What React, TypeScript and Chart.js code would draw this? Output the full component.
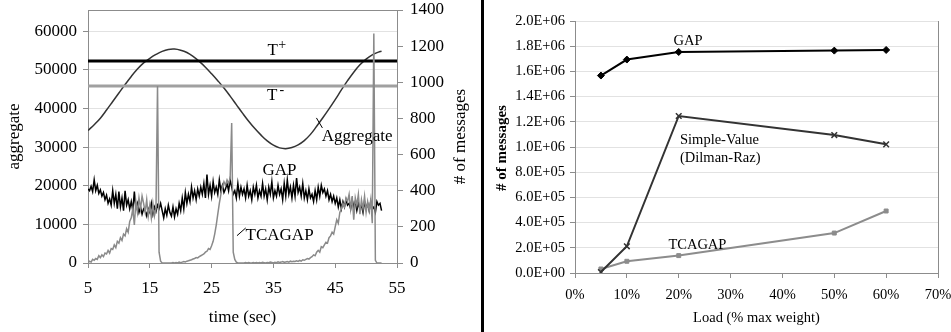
import React, { useEffect, useRef } from 'react';
import { Chart, registerables } from 'chart.js';

Chart.register(...registerables);

const SERIF = '"Liberation Serif", "Times New Roman", Times, serif';

// ---------------- Left panel: aggregate / messages over time ----------------
const AGG_TIME = [5, 6, 7, 8, 9, 10, 11, 12, 13, 14, 15, 16, 17, 18, 19, 20, 21, 22, 23, 24, 25, 26, 27, 28, 29, 30, 31, 32, 33, 34, 35, 36, 37, 38, 39, 40, 41, 42, 43, 44, 45, 46, 47, 48, 49, 50, 51, 52, 52.5];
const AGG_VALUES = [34300, 35800, 37500, 39600, 41800, 44000, 46200, 48300, 50200, 51800, 53000, 54000, 54800, 55300, 55400, 55100, 54500, 53500, 52200, 50700, 49000, 47200, 45300, 43200, 41000, 38800, 36700, 34800, 33100, 31600, 30500, 29800, 29600, 29900, 30600, 31700, 33300, 35400, 37600, 39900, 42300, 44800, 47200, 49400, 51300, 52800, 53900, 54600, 54800];
const AGG_TICKS = [0, 10000, 20000, 30000, 40000, 50000, 60000];

// messages sampled every 0.25 s starting at t = 5 s
const MSG_START = 5;
const MSG_STEP = 0.25;
const GAP_MSGS = [
  410, 400, 425, 395, 460,
  400, 430, 385, 405, 370, 390, 350, 375, 330, 355, 320, 400, 330, 380, 300, 395,
  310, 360, 290, 400, 320, 350, 300, 340, 290, 395, 300, 330, 280, 310, 270, 300,
  290, 260, 300, 280, 330, 270, 310, 285, 320, 300, 330, 290, 250, 300, 265, 320,
  280, 260, 310, 255, 300, 270, 330, 290, 360, 300, 390, 330, 380, 340, 420, 360,
  400, 350, 410, 370, 420, 380, 440, 360, 490, 380, 430, 370, 450, 390, 420, 380,
  460, 400, 430, 390, 410, 440, 400, 460, 420, 380, 400, 360, 440, 370, 420, 380,
  410, 360, 430, 370, 400, 350, 420, 380, 430, 360, 400, 370, 440, 370, 410, 350,
  420, 380, 450, 360, 400, 370, 430, 380, 410, 350, 440, 370, 460, 380, 420, 360,
  430, 370, 470, 390, 420, 370, 440, 360, 400, 350, 410, 360, 380, 340, 400, 350,
  420, 370, 430, 390, 410, 370, 400, 350, 380, 340, 370, 330, 360, 310, 350, 300,
  340, 310, 350, 320, 330, 300, 350, 310, 340, 290, 330, 300, 320, 280, 340, 300,
  330, 290, 340, 300, 310, 280, 340, 320,
  330, 290,
];
const TCAGAP_MSGS = [
  0, 10, 5, 20, 15,
  25, 20, 40, 30, 45, 35, 55, 50, 70, 55, 80, 75, 100, 85, 120, 110,
  140, 125, 160, 150, 190, 170, 230, 250, 300, 210, 340, 280, 360, 300, 370, 330,
  280, 350, 260, 320, 250, 330, 260, 300, 980, 60, 10, 0, 0, 0, 0, 0,
  0, 0, 2, 0, 3, 0, 5, 2, 5, 8, 6, 10, 12, 15, 18, 22,
  25, 30, 28, 35, 40, 45, 50, 60, 65, 80, 75, 95, 120, 160, 210, 270,
  330, 380, 420, 450, 430, 460, 440, 470, 775, 60, 20, 5, 0, 0, 0, 0,
  0, 2, 0, 3, 0, 0, 2, 0, 3, 0, 2, 0, 4, 2, 0, 3,
  2, 5, 3, 0, 4, 2, 6, 3, 5, 8, 4, 6, 8, 5, 10, 7,
  10, 8, 12, 9, 14, 10, 18, 15, 20, 25, 22, 30, 35, 45, 40, 60,
  70, 60, 90, 85, 100, 115, 110, 140, 150, 170, 160, 200, 240, 220, 280, 300,
  330, 310, 360, 340, 380, 300, 370, 240, 360, 320, 380, 270, 350, 300, 370, 280,
  340, 290, 350, 220, 1270, 15, 0, 0,
  0, 0,
];
const T_PLUS = 52300;
const T_MINUS = 45800;
const TIME_SPAN = [5, 55];

// annotation texts (data coordinates: time, aggregate)
const LEFT_NOTES = [
  { text: 'T', sup: '+', t: 34.89, v: 55050 },
  { text: 'T', sup: '-', t: 34.81, v: 43390 },
  { text: 'Aggregate', sup: '', t: 48.56, v: 32800 },
  { text: 'GAP', sup: '', t: 35.97, v: 23860 },
  { text: 'TCAGAP', sup: '', t: 36.0, v: 7120 },
];
const LEFT_LEADERS = [
  { t1: 41.96, v1: 37560, t2: 42.93, v2: 34970 },
  { t1: 29.11, v1: 7070, t2: 30.52, v2: 9070 },
];

// ---------------- Right panel: total messages vs load ----------------
const LOAD_PCT = [5, 10, 20, 50, 60];
const GAP_TOTAL = [1567000, 1694000, 1754000, 1765000, 1770000];
const SIMPLE_TOTAL = [8000, 212000, 1246000, 1095000, 1021000];
const TCAGAP_TOTAL = [32000, 93000, 138000, 317000, 492000];

const RIGHT_NOTES = [
  { text: 'GAP', align: 'center', x: 21.8, y: 1836000 },
  { text: 'Simple-Value', align: 'left', x: 20.25, y: 1051000 },
  { text: '(Dilman-Raz)', align: 'left', x: 20.25, y: 908000 },
  { text: 'TCAGAP', align: 'center', x: 23.6, y: 220000 },
];

function fmtSci(v: number): string {
  if (Math.abs(v) < 1e-6) return '0.0E+00';
  const e = Math.floor(Math.log10(v) + 1e-9);
  const m = v / Math.pow(10, e);
  return m.toFixed(1) + 'E+' + String(e).padStart(2, '0');
}

const fixSize = (size: number, horizontal: boolean) => (scale: any) => {
  if (horizontal) scale.height = size;
  else scale.width = size;
  scale.paddingTop = 0;
  scale.paddingBottom = 0;
  scale.paddingLeft = 0;
  scale.paddingRight = 0;
};

function rotatedText(ctx: CanvasRenderingContext2D, text: string, x: number, y: number) {
  ctx.save();
  ctx.translate(x, y);
  ctx.rotate(-Math.PI / 2);
  ctx.textAlign = 'center';
  ctx.textBaseline = 'alphabetic';
  ctx.fillText(text, 0, 0);
  ctx.restore();
}

const leftDecor = {
  id: 'leftDecor',
  afterDraw(chart: any) {
    const { ctx, chartArea: a, scales } = chart;
    const xs = scales.x;
    const ys = scales.y;
    ctx.save();
    ctx.strokeStyle = '#8c8c8c';
    ctx.lineWidth = 1;
    ctx.beginPath();
    ctx.moveTo(a.left, a.top + 0.5);
    ctx.lineTo(a.right, a.top + 0.5);
    ctx.stroke();

    ctx.fillStyle = '#000';
    ctx.textAlign = 'center';
    ctx.textBaseline = 'middle';
    for (const n of LEFT_NOTES) {
      const px = xs.getPixelForValue(n.t);
      const py = ys.getPixelForValue(n.v);
      ctx.font = `17px ${SERIF}`;
      ctx.fillText(n.text, px, py);
      if (n.sup) {
        ctx.font = `14px ${SERIF}`;
        ctx.fillText(n.sup, px + 9.5, py - 5);
      }
    }
    ctx.strokeStyle = '#000';
    ctx.lineWidth = 1;
    for (const l of LEFT_LEADERS) {
      ctx.beginPath();
      ctx.moveTo(xs.getPixelForValue(l.t1), ys.getPixelForValue(l.v1));
      ctx.lineTo(xs.getPixelForValue(l.t2), ys.getPixelForValue(l.v2));
      ctx.stroke();
    }

    ctx.font = `17px ${SERIF}`;
    rotatedText(ctx, 'aggregate', 19, (a.top + a.bottom) / 2);
    rotatedText(ctx, '# of messages', 464.5, (a.top + a.bottom) / 2);
    ctx.textAlign = 'center';
    ctx.textBaseline = 'alphabetic';
    ctx.fillText('time (sec)', (a.left + a.right) / 2, 321.5);
    ctx.restore();
  },
};

const rightDecor = {
  id: 'rightDecor',
  afterDraw(chart: any) {
    const { ctx, chartArea: a, scales } = chart;
    const xs = scales.x;
    const ys = scales.y;
    ctx.save();
    ctx.strokeStyle = '#8c8c8c';
    ctx.lineWidth = 1;
    ctx.beginPath();
    ctx.moveTo(a.right + 0.5, a.top);
    ctx.lineTo(a.right + 0.5, a.bottom);
    ctx.stroke();

    ctx.fillStyle = '#000';
    ctx.textBaseline = 'middle';
    ctx.font = `14.5px ${SERIF}`;
    for (const n of RIGHT_NOTES) {
      ctx.textAlign = n.align as CanvasTextAlign;
      ctx.fillText(n.text, xs.getPixelForValue(n.x), ys.getPixelForValue(n.y));
    }

    ctx.font = `bold 15px ${SERIF}`;
    rotatedText(ctx, '# of messages', 21, 148);
    ctx.font = `14.5px ${SERIF}`;
    ctx.textAlign = 'center';
    ctx.textBaseline = 'alphabetic';
    ctx.fillText('Load (% max weight)', (a.left + a.right) / 2, 322);
    ctx.restore();
  },
};

export default function App() {
  const leftRef = useRef<HTMLCanvasElement>(null);
  const rightRef = useRef<HTMLCanvasElement>(null);

  useEffect(() => {
    const tick17 = { family: SERIF, size: 17 };
    const tick14 = { family: SERIF, size: 14.5 };
    const plain = (v: any) => String(Math.round(Number(v)));

    const msgPoints = (arr: number[]) => arr.map((v, i) => ({ x: MSG_START + i * MSG_STEP, y: v }));

    const left = new Chart(leftRef.current as HTMLCanvasElement, {
      type: 'line',
      data: {
        datasets: [
          {
            label: 'TCAGAP',
            data: msgPoints(TCAGAP_MSGS),
            yAxisID: 'y1',
            borderColor: '#8a8a8a',
            borderWidth: 1.5,
            pointRadius: 0,
            tension: 0,
          },
          {
            label: 'GAP',
            data: msgPoints(GAP_MSGS),
            yAxisID: 'y1',
            borderColor: '#000',
            borderWidth: 1.5,
            pointRadius: 0,
            tension: 0,
          },
          {
            label: 'T+',
            data: TIME_SPAN.map((t) => ({ x: t, y: T_PLUS })),
            yAxisID: 'y',
            borderColor: '#000',
            borderWidth: 3,
            pointRadius: 0,
          },
          {
            label: 'T-',
            data: TIME_SPAN.map((t) => ({ x: t, y: T_MINUS })),
            yAxisID: 'y',
            borderColor: '#a0a0a0',
            borderWidth: 3,
            pointRadius: 0,
          },
          {
            label: 'Aggregate',
            data: AGG_TIME.map((t, i) => ({ x: t, y: AGG_VALUES[i] })),
            yAxisID: 'y',
            borderColor: '#333',
            borderWidth: 1.5,
            pointRadius: 0,
            tension: 0.4,
          },
        ],
      },
      options: {
        responsive: false,
        animation: false,
        devicePixelRatio: 1,
        layout: { padding: { top: 10, left: 0, right: 0, bottom: 0 } },
        plugins: { legend: { display: false }, tooltip: { enabled: false } },
        scales: {
          x: {
            type: 'linear',
            position: 'bottom',
            min: 5,
            max: 55,
            ticks: { stepSize: 10, autoSkip: false, maxRotation: 0, padding: 10, color: '#000', font: tick17, callback: plain },
            grid: { drawOnChartArea: false, tickLength: 5, tickColor: '#8c8c8c' },
            border: { color: '#8c8c8c' },
            afterFit: fixSize(69, true),
          },
          y: {
            type: 'linear',
            position: 'left',
            min: 0,
            max: 65500,
            ticks: { padding: 6, color: '#000', font: tick17, autoSkip: false, callback: plain },
            afterBuildTicks: (s: any) => {
              s.ticks = AGG_TICKS.map((v) => ({ value: v }));
            },
            grid: { color: '#e2e2e2', tickLength: 5, tickColor: '#8c8c8c' },
            border: { color: '#8c8c8c' },
            afterFit: fixSize(88, false),
          },
          y1: {
            type: 'linear',
            position: 'right',
            min: 0,
            max: 1400,
            ticks: { stepSize: 200, padding: 7, color: '#000', font: tick17, callback: plain },
            grid: { drawOnChartArea: false, tickLength: 6, tickColor: '#8c8c8c' },
            border: { color: '#8c8c8c' },
            afterFit: fixSize(83, false),
          },
        },
      } as any,
      plugins: [leftDecor],
    });

    const right = new Chart(rightRef.current as HTMLCanvasElement, {
      type: 'line',
      data: {
        datasets: [
          {
            label: 'GAP',
            data: LOAD_PCT.map((x, i) => ({ x, y: GAP_TOTAL[i] })),
            borderColor: '#000',
            backgroundColor: '#000',
            borderWidth: 2,
            pointStyle: 'rectRot',
            pointRadius: 3.5,
            pointBorderWidth: 1,
          },
          {
            label: 'Simple-Value (Dilman-Raz)',
            data: LOAD_PCT.map((x, i) => ({ x, y: SIMPLE_TOTAL[i] })),
            borderColor: '#333',
            backgroundColor: '#333',
            borderWidth: 2,
            pointStyle: 'crossRot',
            pointRadius: 4,
            pointBorderWidth: 1.5,
          },
          {
            label: 'TCAGAP',
            data: LOAD_PCT.map((x, i) => ({ x, y: TCAGAP_TOTAL[i] })),
            borderColor: '#8c8c8c',
            backgroundColor: '#8c8c8c',
            borderWidth: 2,
            pointStyle: 'rect',
            pointRadius: 2.8,
            pointBorderWidth: 1,
          },
        ],
      },
      options: {
        responsive: false,
        animation: false,
        devicePixelRatio: 1,
        layout: { padding: { top: 21, left: 0, right: 13, bottom: 0 } },
        plugins: { legend: { display: false }, tooltip: { enabled: false } },
        scales: {
          x: {
            type: 'linear',
            position: 'bottom',
            min: 0,
            max: 70,
            ticks: {
              stepSize: 10,
              autoSkip: false,
              maxRotation: 0,
              padding: 8,
              color: '#000',
              font: tick14,
              callback: (v: any) => `${Math.round(Number(v))}%`,
            },
            grid: { drawOnChartArea: false, tickLength: 5, tickColor: '#8c8c8c' },
            border: { color: '#8c8c8c' },
            afterFit: fixSize(59, true),
          },
          y: {
            type: 'linear',
            position: 'left',
            min: 0,
            max: 2000000,
            ticks: {
              stepSize: 200000,
              padding: 5,
              color: '#000',
              font: tick14,
              autoSkip: false,
              callback: (v: any) => fmtSci(Number(v)),
            },
            grid: { color: '#e2e2e2', tickLength: 5, tickColor: '#8c8c8c' },
            border: { color: '#8c8c8c' },
            afterFit: fixSize(90, false),
          },
        },
      } as any,
      plugins: [rightDecor],
    });

    return () => {
      left.destroy();
      right.destroy();
    };
  }, []);

  return (
    <div style={{ position: 'absolute', left: 0, top: 0, width: 951, height: 332, background: '#fff', overflow: 'hidden' }}>
      <canvas ref={leftRef} width={480} height={332} style={{ position: 'absolute', left: 0, top: 0, width: 480, height: 332 }} />
      <div style={{ position: 'absolute', left: 481, top: 0, width: 3, height: 332, background: '#000' }} />
      <canvas ref={rightRef} width={466} height={332} style={{ position: 'absolute', left: 485, top: 0, width: 466, height: 332 }} />
    </div>
  );
}
